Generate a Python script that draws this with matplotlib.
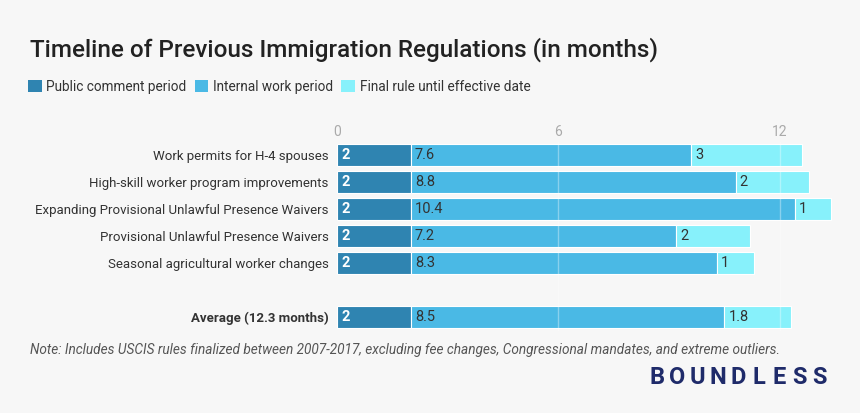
import matplotlib.pyplot as plt
from matplotlib.patches import Patch

plt.rcParams['font.family'] = ['Roboto', 'DejaVu Sans']

# data
rules = ['Work permits for H-4 spouses',
         'High-skill worker program improvements',
         'Expanding Provisional Unlawful Presence Waivers',
         'Provisional Unlawful Presence Waivers',
         'Seasonal agricultural worker changes',
         'Average (12.3 months)']
public_comment = [2, 2, 2, 2, 2, 2]
internal_work = [7.6, 8.8, 10.4, 7.2, 8.3, 8.5]
final_rule = [3, 2, 1, 2, 1, 1.8]
row_pos = [0, 1, 2, 3, 4, 6]
series_names = ['Public comment period', 'Internal work period', 'Final rule until effective date']
colors = ['#2f84b1', '#4ab9e5', '#87f1fb']
xticks = [0, 6, 12]

bg = '#f7f7f7'
fig = plt.figure(figsize=(8.6, 4.13), dpi=100, facecolor=bg)
ax = fig.add_axes([337 / 860, 1 - 330.5 / 413, (840 - 337) / 860, 189 / 413])
ax.set_facecolor(bg)

lefts = [0] * len(rules)
for vals, col, name in zip([public_comment, internal_work, final_rule], colors, series_names):
    bars = ax.barh(row_pos, vals, left=lefts, height=0.81, color=col,
                   edgecolor='white', linewidth=0.8, label=name, zorder=2)
    for b, v, l in zip(bars, vals, lefts):
        first = l == 0
        ax.annotate(f'{v:g}', (l, b.get_y() + b.get_height() / 2), xytext=(3, 0),
                    textcoords='offset points', va='center', ha='left', fontsize=10.5,
                    color='white' if first else '#333333',
                    fontweight='bold' if first else 'normal', zorder=4)
    lefts = [a + b for a, b in zip(lefts, vals)]

for x in xticks[1:]:
    ax.axvline(x, color='white', alpha=0.35, lw=1, zorder=3)

ax.set_xlim(0, 503 / 36.9)
ax.set_ylim(6.5, -0.5)
ax.xaxis.tick_top()
ax.set_xticks(xticks)
ax.tick_params(axis='x', length=0, pad=2, labelsize=10, labelcolor='#aaaaaa')
ax.set_yticks(row_pos)
ax.set_yticklabels(rules)
ax.tick_params(axis='y', length=0, pad=6, labelsize=9.5, labelcolor='#333333')
ax.get_yticklabels()[-1].set_fontweight('bold')
for s in ax.spines.values():
    s.set_visible(False)

fig.text(30 / 860, 1 - 50 / 413, 'Timeline of Previous Immigration Regulations (in months)',
         fontsize=17.5, fontweight='medium', color='#222222', va='center', ha='left')

handles = [Patch(facecolor=c, label=n) for c, n in zip(colors, series_names)]
fig.legend(handles=handles, loc='upper left', bbox_to_anchor=(28 / 860, 1 - 80 / 413),
           ncol=3, frameon=False, fontsize=9.8, handlelength=1.0, handleheight=1.0,
           handletextpad=0.35, columnspacing=0.6, borderaxespad=0, borderpad=0,
           labelcolor='#333333')

fig.text(30 / 860, 1 - 350 / 413,
         'Note: Includes USCIS rules finalized between 2007-2017, excluding fee changes, '
         'Congressional mandates, and extreme outliers.',
         fontsize=9.8, style='italic', color='#555555', va='center', ha='left')

brand = 'BOUNDLESS'
for i, ch in enumerate(brand):
    fig.text((657 + i * 20.3) / 860, 1 - 377 / 413, ch, fontsize=17, fontweight='bold',
             color='#1f2b6a', ha='center', va='center')

fig.savefig('out.png', dpi=100, facecolor=bg)
